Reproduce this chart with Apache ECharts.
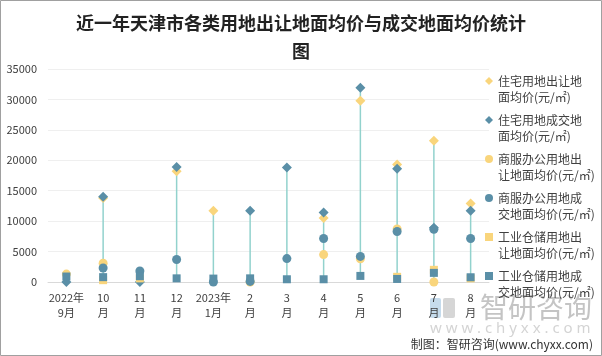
<!DOCTYPE html>
<html>
<head>
<meta charset="utf-8">
<script src="https://cdn.jsdelivr.net/npm/echarts@6/dist/echarts.min.js"></script>
<style>
html,body{margin:0;padding:0;background:#fff;}
#chart{width:602px;height:356px;}
</style>
</head>
<body>
<div id="chart"></div>
<script>
const categories = ['2022年\n9月','10\n月','11\n月','12\n月','2023年\n1月','2\n月','3\n月','4\n月','5\n月','6\n月','7\n月','8\n月'];
const seriesNames = [
  '住宅用地出让地面均价(元/㎡)',
  '住宅用地成交地面均价(元/㎡)',
  '商服办公用地出让地面均价(元/㎡)',
  '商服办公用地成交地面均价(元/㎡)',
  '工业仓储用地出让地面均价(元/㎡)',
  '工业仓储用地成交地面均价(元/㎡)'
];
const residentialSell = [null, 13800, null, 18200, 11700, null, null, 10500, 29800, 19300, 23200, 12900];
const residentialDeal = [0, 14000, 0, 18900, null, 11700, 18800, 11400, 31900, 18600, 8900, 11700];
const commercialSell  = [1300, 3100, null, null, null, 0, null, 4500, 3800, 8700, 0, null];
const commercialDeal  = [null, 2300, 1800, 3700, 0, 100, 3850, 7150, 4200, 8300, 8650, 7150];
const industrialSell  = [null, 300, 600, null, null, null, null, null, null, 850, 2000, 600];
const industrialDeal  = [900, 800, 950, 600, 560, 600, 450, 450, 1000, 500, 1500, 780];
const yTicks = [0, 5000, 10000, 15000, 20000, 25000, 30000, 35000];

const YELLOW = '#f9d57c';
const BLUE = '#5a8fa7';
const STEM = '#92d2cd';

const allSeries = [residentialSell, residentialDeal, commercialSell, commercialDeal, industrialSell, industrialDeal];
const symbols = ['diamond','diamond','circle','circle','rect','rect'];
const sizes = [10, 10, 9, 9, 8, 8];
const colors = [YELLOW, BLUE, YELLOW, BLUE, YELLOW, BLUE];

const stemBase = [], stemLen = [];
for (let i = 0; i < categories.length; i++) {
  const vals = allSeries.map(s => s[i]).filter(v => v !== null);
  const mn = Math.min.apply(null, vals), mx = Math.max.apply(null, vals);
  stemBase.push(mn);
  stemLen.push(mx - mn);
}

const chart = echarts.init(document.getElementById('chart'));
const series = [
  {type:'bar', name:'stemBase', stack:'stem', data:stemBase, barWidth:1.5, itemStyle:{color:'transparent'}, silent:true, z:1},
  {type:'bar', name:'stem', stack:'stem', data:stemLen, barWidth:1.5, itemStyle:{color:STEM}, silent:true, z:1}
];
allSeries.forEach((d, k) => {
  series.push({
    type:'scatter', name:seriesNames[k], data:d, symbol:symbols[k], symbolSize:sizes[k],
    itemStyle:{color:colors[k], opacity:1}, clip:false, z:2 + k
  });
});

chart.setOption({
  animation:false,
  backgroundColor:'#fff',
  textStyle:{fontFamily:'"Noto Sans CJK SC", "Noto Sans", sans-serif'},
  title:{
    text:'近一年天津市各类用地出让地面均价与成交地面均价统计\n图',
    left:'center', top:9, padding:[0,0,0,12],
    textStyle:{fontSize:18, fontWeight:'bold', color:'#222', lineHeight:28, fontFamily:'"Noto Sans CJK SC", sans-serif'}
  },
  legend:{
    orient:'vertical', left:485, top:57, padding:0, itemGap:-9,
    itemWidth:8, itemHeight:8,
    data:seriesNames,
    formatter:function(n){ return ' \n' + n.slice(0,7) + '\n' + n.slice(7); },
    textStyle:{fontSize:12, color:'#404040', lineHeight:16}
  },
  grid:{left:48, right:113, top:69, bottom:74},
  xAxis:{
    type:'category', data:categories,
    axisLine:{lineStyle:{color:'#d9d9d9'}},
    axisTick:{show:false},
    axisLabel:{interval:0, fontSize:11, color:'#404040', lineHeight:15, margin:8}
  },
  yAxis:{
    type:'value', min:yTicks[0], max:yTicks[yTicks.length-1], interval:5000,
    axisLine:{show:false}, axisTick:{show:false},
    axisLabel:{fontSize:11, color:'#404040', margin:11, formatter:function(v){ return String(v); }},
    splitLine:{lineStyle:{color:'#efefef'}}
  },
  graphic:[
    {type:'rect', shape:{x:0.5,y:0.5,width:601,height:355}, style:{fill:'none', stroke:'#a0a0a0', lineWidth:1}, z:100},
    {type:'rect', shape:{x:430,y:298,width:11,height:20,r:2}, style:{fill:'#c5dbec'}, z:0},
    {type:'rect', shape:{x:443,y:298,width:12,height:20,r:2}, style:{fill:'#d6d6d6'}, z:0},
    {type:'text', left:480, top:293, style:{text:'智研咨询', fontSize:28, fill:'#c4c4c4', fontFamily:'"Noto Sans CJK SC", sans-serif'}, z:0},
    {type:'text', left:430, top:321, style:{text:'w w w . c h y x x . c o m', fontSize:15, fill:'#d4d4d4', fontFamily:'"Noto Sans", sans-serif'}, z:0},
    {type:'text', right:9, top:338, style:{text:'制图：智研咨询(www.chyxx.com)', fontSize:12, fill:'#333', fontFamily:'"Noto Sans CJK SC", sans-serif'}, z:100}
  ],
  series:series
});
</script>
</body>
</html>
